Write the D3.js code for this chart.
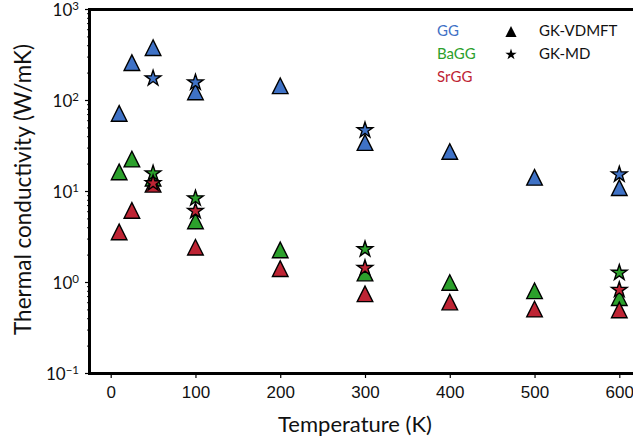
<!DOCTYPE html>
<html>
<head>
<meta charset="utf-8">
<script src="https://cdn.jsdelivr.net/npm/d3@7"></script>
<style>
  html, body { margin: 0; padding: 0; background: #fff; }
  svg { display: block; font-family: Lato, "DejaVu Sans", sans-serif; }
</style>
</head>
<body>
<svg id="chart" width="633" height="445"></svg>
<script>
// Thermal conductivity of clathrate compounds vs temperature
const tempsVDMFT = [10, 25, 50, 100, 200, 300, 400, 500, 600];
const ggVDMFT    = [72, 260, 380, 124, 145, 34.5, 27.5, 14.3, 11.0];
const baggVDMFT  = [16.4, 22.7, 14, 4.75, 2.28, 1.27, 1.0, 0.81, 0.68];
const srggVDMFT  = [3.6, 6.2, 12, 2.44, 1.42, 0.75, 0.61, 0.51, 0.50];

const tempsMD = [50, 100, 300, 600];
const ggMD    = [175, 158, 47, 15.4];
const baggMD  = [15.8, 8.4, 2.32, 1.28];
const srggMD  = [12.3, 6.1, 1.44, 0.83];

const materials = ["GG", "BaGG", "SrGG"];
const colors = ["#3f72c6", "#2ca02c", "#be2434"];
const methods = ["GK-VDMFT", "GK-MD"];
const xTicks = [0, 100, 200, 300, 400, 500, 600];
const yMajor = [-1, 0, 1, 2, 3];

const svg = d3.select("#chart");
const plotLeft = 89.5, plotTop = 9.5, plotBottom = 373.5, plotRight = 640.5;

const x = d3.scaleLinear().domain([-25, 625]).range([plotLeft, plotRight]);
const y = d3.scaleLog().domain([0.1, 1000]).range([plotBottom, plotTop]);

// marker shapes
const tri = (r) => `M0,${-r}L${-r},${r}L${r},${r}Z`;
const star = (r) => {
  const ri = r * 0.381966;
  let p = "";
  for (let i = 0; i < 10; i++) {
    const rr = i % 2 === 0 ? r : ri;
    const a = i * Math.PI / 5;
    p += (i ? "L" : "M") + (rr * Math.sin(a)).toFixed(3) + "," + (-rr * Math.cos(a)).toFixed(3);
  }
  return p + "Z";
};

// axes
const xAxis = d3.axisBottom(x).tickValues(xTicks).tickSize(4.5).tickPadding(8).tickFormat(d3.format("d"));
const gx = svg.append("g").attr("transform", `translate(0,${plotBottom})`).call(xAxis);
gx.select(".domain").remove();
gx.selectAll(".tick line").attr("stroke", "#000").attr("stroke-width", 1.2);
gx.selectAll(".tick text").attr("font-size", 17).attr("fill", "#111").attr("font-family", null);

// y ticks: major and minor
const minor = [];
for (let e = -1; e < 3; e++) for (let m = 2; m <= 9; m++) minor.push(m * Math.pow(10, e));
const gy = svg.append("g");
gy.selectAll("line.minor").data(minor).join("line")
  .attr("x1", plotLeft - 2.5).attr("x2", plotLeft)
  .attr("y1", d => y(d)).attr("y2", d => y(d))
  .attr("stroke", "#000").attr("stroke-width", 0.9);
gy.selectAll("line.major").data(yMajor).join("line")
  .attr("x1", plotLeft - 4.5).attr("x2", plotLeft)
  .attr("y1", d => y(Math.pow(10, d))).attr("y2", d => y(Math.pow(10, d)))
  .attr("stroke", "#000").attr("stroke-width", 1.2);
const yl = gy.selectAll("text.ylab").data(yMajor).join("text")
  .attr("x", 79).attr("y", d => y(Math.pow(10, d)) + 6.5)
  .attr("text-anchor", "end").attr("fill", "#111").attr("font-size", 17);
yl.append("tspan").text("10");
yl.append("tspan").attr("font-size", 11.5).attr("dy", -6.5)
  .text(d => d < 0 ? "\u2212" + (-d) : String(d));

// spines
svg.append("path")
  .attr("d", `M${plotRight},${plotTop}H${plotLeft}V${plotBottom}H${plotRight}`)
  .attr("fill", "none").attr("stroke", "#000").attr("stroke-width", 3);

// axis titles
svg.append("text").attr("x", 355).attr("y", 432).attr("text-anchor", "middle")
  .attr("font-size", 22).attr("fill", "#111").text("Temperature (K)");
svg.append("text").attr("transform", `translate(31,${(plotTop + plotBottom) / 2 - 2}) rotate(-90)`)
  .attr("text-anchor", "middle").attr("font-size", 22.5).attr("fill", "#111")
  .text("Thermal conductivity (W/mK)");

// data marks: triangles first, stars on top
const vdmft = [ggVDMFT, baggVDMFT, srggVDMFT];
const md = [ggMD, baggMD, srggMD];
const plot = svg.append("g");
vdmft.forEach((vals, i) => {
  plot.append("g").selectAll("path").data(vals).join("path")
    .attr("d", tri(7.8))
    .attr("transform", (d, j) => `translate(${x(tempsVDMFT[j])},${y(d)})`)
    .attr("fill", colors[i]).attr("stroke", "#000").attr("stroke-width", 1.4)
    .attr("stroke-linejoin", "miter");
});
md.forEach((vals, i) => {
  plot.append("g").selectAll("path").data(vals).join("path")
    .attr("d", star(8.2))
    .attr("transform", (d, j) => `translate(${x(tempsMD[j])},${y(d)})`)
    .attr("fill", colors[i]).attr("stroke", "#000").attr("stroke-width", 1.4)
    .attr("stroke-linejoin", "miter");
});

// legend
const leg = svg.append("g");
materials.forEach((m, i) => {
  leg.append("text").attr("x", 437).attr("y", 36 + i * 22.8)
    .attr("font-size", 15).attr("fill", colors[i]).text(m);
});
leg.append("path").attr("d", tri(5.6)).attr("transform", "translate(511,31.5)").attr("fill", "#000");
leg.append("path").attr("d", star(6)).attr("transform", "translate(511,54.5)").attr("fill", "#000");
methods.forEach((m, i) => {
  leg.append("text").attr("x", 539).attr("y", 36 + i * 22.8)
    .attr("font-size", 15).attr("fill", "#111").text(m);
});
</script>
</body>
</html>
